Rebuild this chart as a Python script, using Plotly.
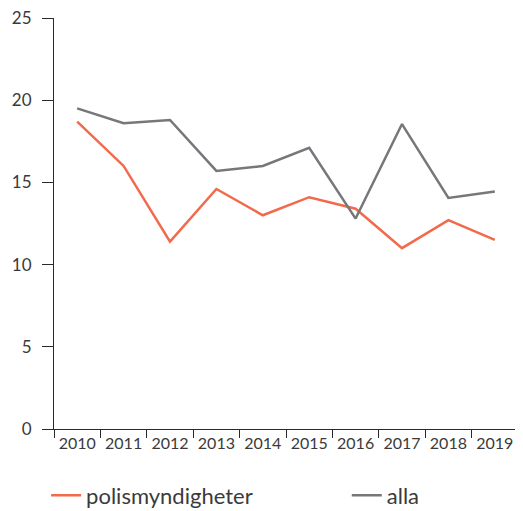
import plotly.graph_objects as go

years = ["2010", "2011", "2012", "2013", "2014", "2015", "2016", "2017", "2018", "2019"]
polismyndigheter = [18.7, 16.0, 11.4, 14.6, 13.0, 14.1, 13.4, 11.0, 12.7, 11.5]
alla = [19.5, 18.6, 18.8, 15.7, 16.0, 17.1, 12.8, 18.55, 14.05, 14.45]

fig = go.Figure()
fig.add_trace(go.Scatter(x=years, y=polismyndigheter, mode="lines", name="polismyndigheter",
                         line=dict(color="#f26a4b", width=2.5), legend="legend"))
fig.add_trace(go.Scatter(x=years, y=alla, mode="lines", name="alla",
                         line=dict(color="#77777b", width=2.5), legend="legend2"))

# page body adds an 8px offset, so the figure is 8px smaller on each axis
legend_style = dict(orientation="h", yref="container", yanchor="middle", y=0.031,
                    xanchor="left", font=dict(size=22), bgcolor="rgba(0,0,0,0)")

fig.update_layout(
    width=515, height=503,
    margin=dict(l=46, r=5, t=10, b=82),
    paper_bgcolor="white", plot_bgcolor="white",
    font=dict(family="Lato", size=16, color="#3a3a3a"),
    showlegend=True,
    legend=dict(legend_style, x=-0.017),
    legend2=dict(legend_style, x=0.631),
    xaxis=dict(type="category", range=[-0.5, 9.5], tickson="boundaries", ticks="outside",
               ticklen=8, tickcolor="#2a2a2a", showline=True, linecolor="#2a2a2a", linewidth=1.2,
               showgrid=False, zeroline=False, automargin=False, ticklabeloverflow="allow"),
    yaxis=dict(range=[0, 25], dtick=5, ticks="outside", ticklen=11, tickcolor="#2a2a2a",
               showline=True, linecolor="#2a2a2a", linewidth=1.2, showgrid=False, zeroline=False,
               automargin=False, tickfont=dict(size=17), ticklabelstandoff=7,
               ticklabeloverflow="allow"),
)

fig.write_html("out.html")
